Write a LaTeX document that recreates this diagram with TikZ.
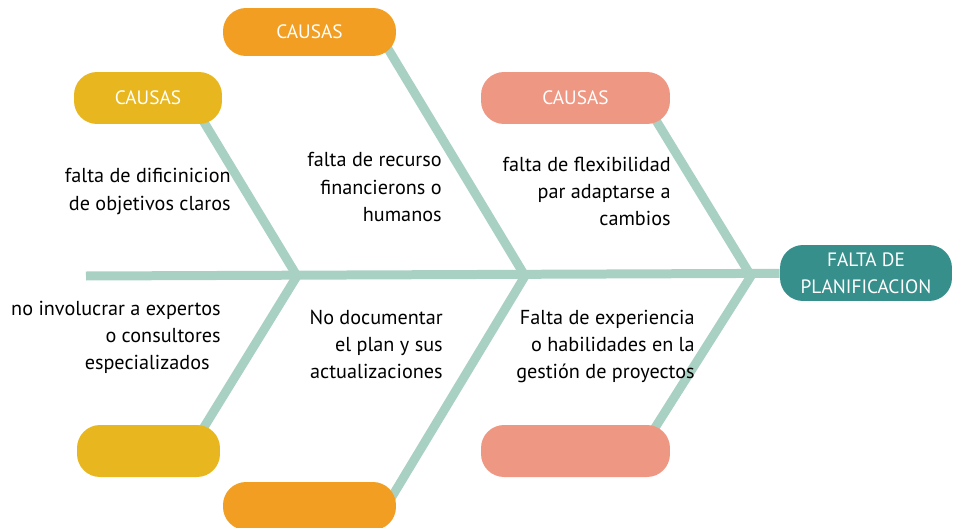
\documentclass[tikz,border=0pt]{standalone}
\usepackage{fontspec}
\setmainfont{PT Sans}
\usepackage{tikz}
\usetikzlibrary{positioning, calc}
\definecolor{yellow}{HTML}{E8B71F}
\definecolor{orange}{HTML}{F29E23}
\definecolor{salmon}{HTML}{EE9783}
\definecolor{teal}{HTML}{378F8C}
\definecolor{mint}{HTML}{A9D1C3}
\pgfdeclarelayer{bg}
\pgfsetlayers{bg,main}

\begin{document}
\begin{tikzpicture}[x=0.02cm, y=-0.02cm,
  causa/.style={rounded corners=0.46cm, minimum height=1.04cm, text=white,
    font=\fontsize{11}{15.4}\selectfont},
  bone/.style={mint, line width=0.18cm},
  txt/.style={anchor=east, align=right, inner sep=0pt,
    font=\fontsize{11.5}{15.4}\selectfont}]
\useasboundingbox (0,0) rectangle (956,527);
% heads
\node[causa, fill=yellow, minimum width=2.96cm] (cy1) at (148,98) {CAUSAS};
\node[causa, fill=orange, minimum width=3.46cm, minimum height=0.96cm] (co1) at (309.5,32) {CAUSAS};
\node[causa, fill=salmon, minimum width=3.78cm] (cs1) at (575.5,98) {CAUSAS};
\node[causa, fill=yellow, minimum width=2.86cm] (cy2) at (148.5,451) {};
\node[causa, fill=orange, minimum width=3.46cm, minimum height=0.96cm] (co2) at (309.5,506) {};
\node[causa, fill=salmon, minimum width=3.78cm] (cs2) at (575.5,451) {};
\node[causa, fill=teal, minimum width=3.44cm, minimum height=1.12cm, align=center] (falta) at (866,273) {FALTA DE\\PLANIFICACION};
% spine
\coordinate (s0) at (86,276);
\coordinate (j1) at (297,276);
\coordinate (j2) at (525,276);
\coordinate (j3) at (751,276);
% bones
\begin{pgfonlayer}{bg}
\draw[bone] (s0) -- (falta);
\draw[bone] ($(cy1.east)+(-33,0)$) -- (j1);
\draw[bone] (j1) -- ($(cy2.east)+(-31,0)$);
\draw[bone] ($(co1.east)+(-18.5,0)$) -- (j2);
\draw[bone] (j2) -- ($(co2.east)+(-10,0)$);
\draw[bone] ($(cs1.east)+(-28,0)$) -- (j3);
\draw[bone] (j3) -- ($(cs2.east)+(-30,0)$);
\end{pgfonlayer}
% causes
\node[txt] (t1) at (231,191.5) {falta de dificinicion\\de objetivos claros};
\node[txt] (t2) at (442,187) {falta de recurso\\financierons o\\humanos};
\node[txt] (t3) at (671,191) {falta de flexibilidad\\par adaptarse a\\cambios};
\node[txt] (t4) at (221,337) {no involucrar a expertos\\o consultores\hspace*{0.16cm}\\especializados\hspace*{0.22cm}};
\node[txt] (t5) at (443,344.5) {No documentar\\el plan y sus\\actualizaciones};
\node[txt] (t6) at (695,346.5) {Falta de experiencia\\o habilidades en la\\gestión de proyectos};
\end{tikzpicture}
\end{document}
